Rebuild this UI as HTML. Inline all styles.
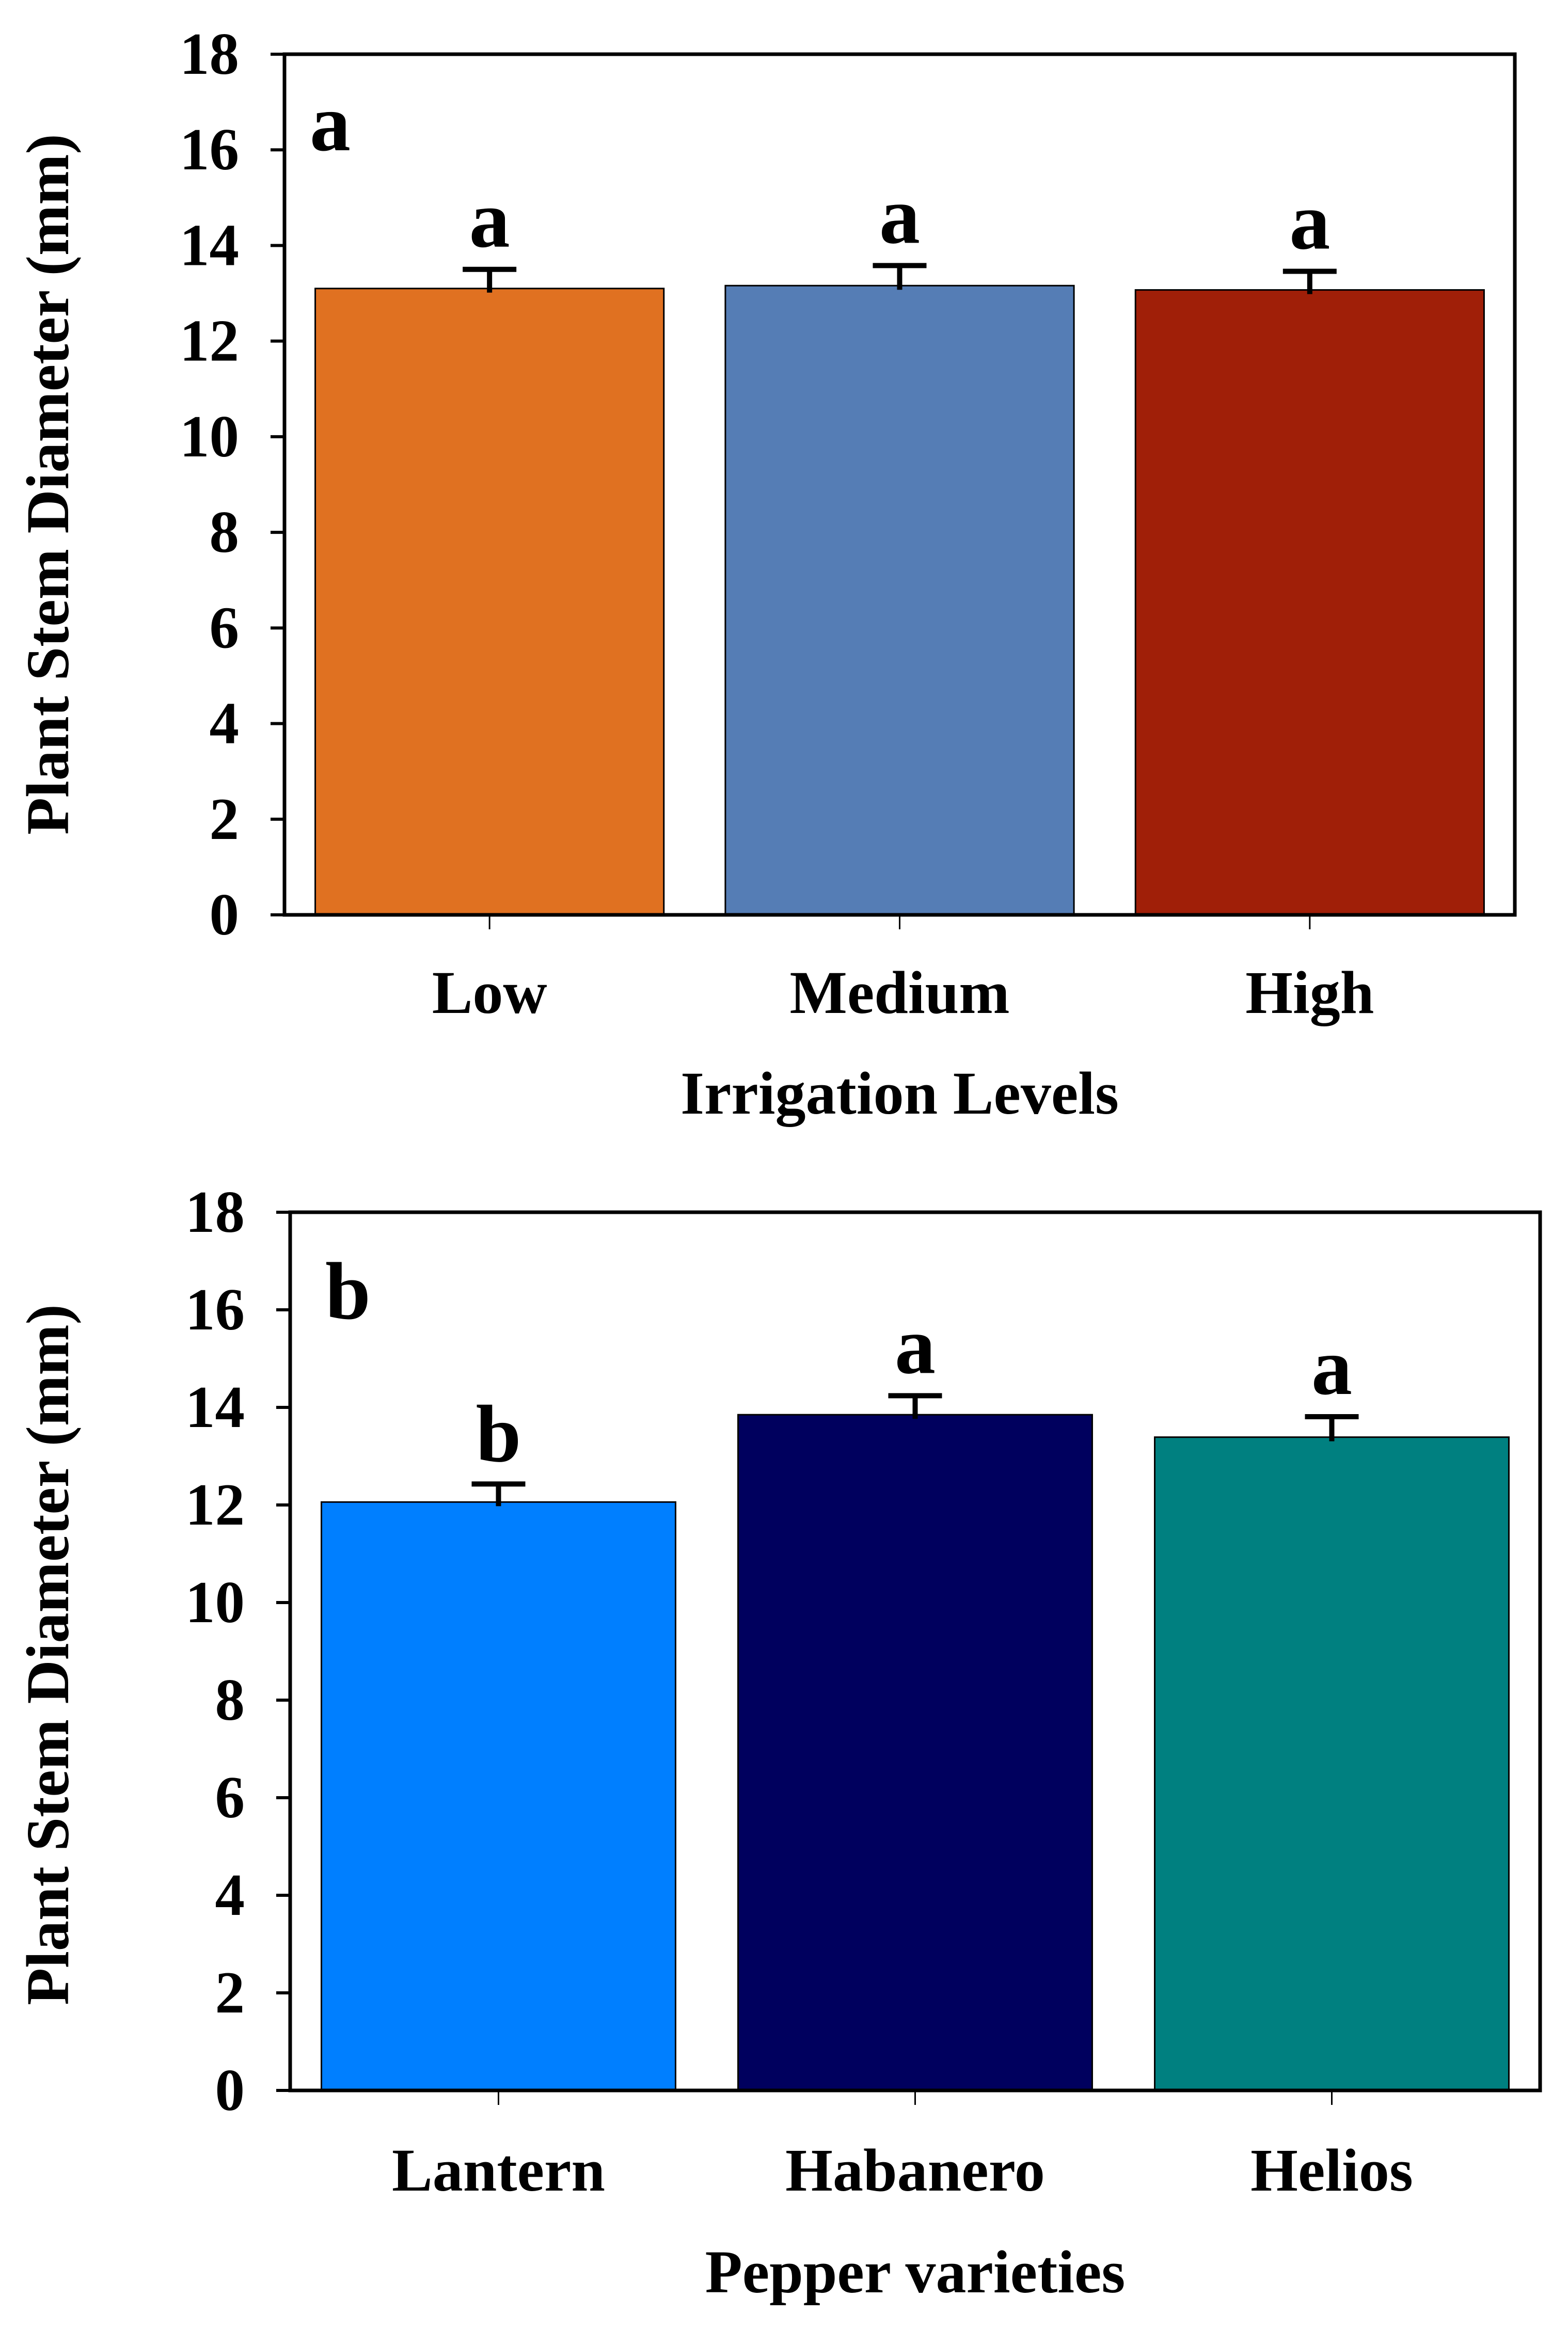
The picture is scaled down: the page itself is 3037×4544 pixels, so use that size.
<!DOCTYPE html>
<html><head><meta charset="utf-8">
<style>
html,body{margin:0;padding:0;background:#fff;}
svg{display:block;}
text{font-family:"Liberation Serif","Times New Roman",serif;font-weight:bold;fill:#000;}
</style></head>
<body>
<svg id="fig" width="3037" height="4544" viewBox="0 0 3037 4544" xmlns="http://www.w3.org/2000/svg"></svg>
<script>
// Panel a data
const catsA = ["Low", "Medium", "High"];
const valsA = [13.10, 13.16, 13.07];
const errA = [0.40, 0.42, 0.39];
const lettersA = ["a", "a", "a"];
const colorsA = ["#E07121", "#557DB5", "#A01F08"];
// Panel b data
const catsB = ["Lantern", "Habanero", "Helios"];
const valsB = [12.06, 13.85, 13.39];
const errB = [0.37, 0.39, 0.42];
const lettersB = ["b", "a", "a"];
const colorsB = ["#007FFF", "#00005E", "#008080"];
const yTicks = [0, 2, 4, 6, 8, 10, 12, 14, 16, 18];

const NS = "http://www.w3.org/2000/svg";
const svg = document.getElementById("fig");
function mk(tag, attrs, parent) {
  const e = document.createElementNS(NS, tag);
  for (const k in attrs) e.setAttribute(k, attrs[k]);
  (parent || svg).appendChild(e);
  return e;
}

function panel(cfg) {
  const g = mk("g", {});
  
  
  const L = cfg.left, R = cfg.right, T = cfg.top, B = cfg.bottom;
  const yS = v => B - (v / 18) * (B - T);
  const slot = (R - L) / cfg.cats.length;
  const xC = i => L + slot * (i + 0.5);
  const bw = slot * 0.85;

  cfg.vals.forEach((v, i) => {
    const r = mk("rect", {x: xC(i) - bw / 2, y: yS(v), width: bw, height: B - yS(v), fill: cfg.colors[i], stroke: "#000", "stroke-width": 3}, g);
    
    
    const top = yS(v + cfg.errs[i]);
    const eb = mk("g", {}, g);
    
    
    mk("line", {x1: xC(i), x2: xC(i), y1: yS(v) + 8, y2: top, stroke: "#000", "stroke-width": 10}, eb);
    mk("line", {x1: xC(i) - 52, x2: xC(i) + 52, y1: top, y2: top, stroke: "#000", "stroke-width": 10}, eb);
    const t = mk("text", {x: xC(i), y: top - 44, "text-anchor": "middle", "font-size": 158}, g);
    t.textContent = cfg.letters[i];
    
    
    mk("line", {x1: xC(i), x2: xC(i), y1: B, y2: B + 28, stroke: "#000", "stroke-width": 3}, g);
    const xl = mk("text", {x: xC(i), y: cfg.xLabelY, "text-anchor": "middle", "font-size": 118}, g);
    xl.textContent = cfg.cats[i];
    
    
  });

  const fr = mk("rect", {x: L, y: T, width: R - L, height: B - T, fill: "none", stroke: "#000", "stroke-width": 7}, g);
  
  

  yTicks.forEach(v => {
    mk("line", {x1: L - 27, x2: L, y1: yS(v), y2: yS(v), stroke: "#000", "stroke-width": 6}, g);
    const t = mk("text", {x: L - 88, y: yS(v) + 38, "text-anchor": "end", "font-size": 115}, g);
    t.textContent = v;
    
    
  });

  const pl = mk("text", {x: cfg.panelX, y: cfg.panelY, "font-size": 158}, g);
  pl.textContent = cfg.panelLabel;
  
  

  const xt = mk("text", {x: (L + R) / 2, y: cfg.xTitleY, "text-anchor": "middle", "font-size": 118}, g);
  xt.textContent = cfg.xTitle;
  
  

  const cy = cfg.yTitleCY;
  const yt = mk("text", {x: 0, y: 0, "text-anchor": "middle", "font-size": 118, transform: "translate(132," + cy + ") rotate(-90)"}, g);
  yt.textContent = "Plant Stem Diameter (mm)";
  
  
}

panel({name: "chart-irrigation-levels", cats: catsA, vals: valsA, errs: errA, letters: lettersA, colors: colorsA,
  left: 551, right: 2934, top: 105, bottom: 1772, xLabelY: 1962, xTitle: "Irrigation Levels", xTitleY: 2157,
  panelLabel: "a", panelX: 600, panelY: 291, yTitleCY: 938});
panel({name: "chart-pepper-varieties", cats: catsB, vals: valsB, errs: errB, letters: lettersB, colors: colorsB,
  left: 562, right: 2983, top: 2348, bottom: 4049, xLabelY: 4243, xTitle: "Pepper varieties", xTitleY: 4440,
  panelLabel: "b", panelX: 630, panelY: 2554, yTitleCY: 3205});
</script>
</body></html>
